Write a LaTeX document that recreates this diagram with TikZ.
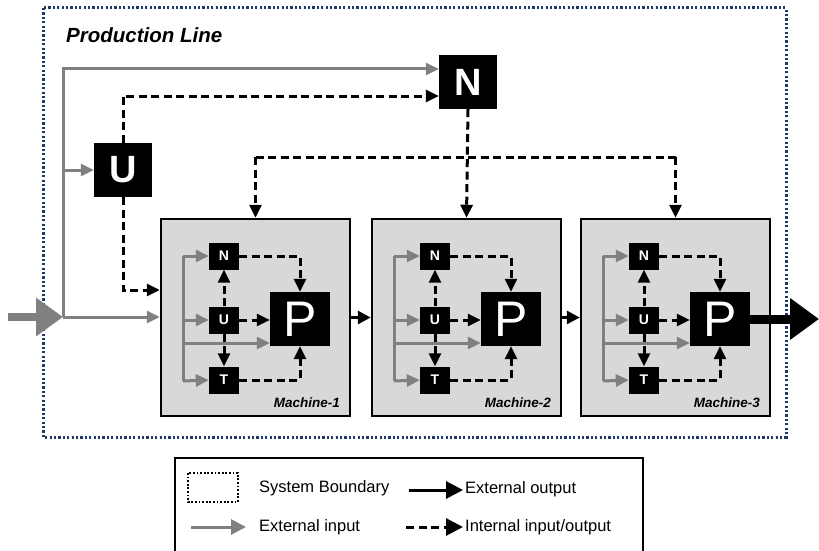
\documentclass[tikz,border=0pt]{standalone}
\usepackage{fontspec}
\setmainfont{Liberation Sans}
\usetikzlibrary{arrows.meta,calc}
\definecolor{navy}{HTML}{1F3A68}
\definecolor{lgray}{HTML}{808080}
\definecolor{mfill}{HTML}{D8D8D8}
\tikzset{
  bigbox/.style={fill=black,text=white,inner sep=0pt,minimum width=58pt,minimum height=54pt,
    font=\fontsize{38}{38}\selectfont\bfseries},
  smallbox/.style={fill=black,text=white,inner sep=0pt,minimum width=30pt,minimum height=27pt,
    font=\fontsize{14}{14}\selectfont\bfseries},
  pbox/.style={fill=black,text=white,inner sep=0pt,minimum width=60pt,minimum height=54pt,
    font=\fontsize{50}{50}\selectfont},
  machine/.style={draw=black,fill=mfill,line width=2.5pt,minimum width=189pt,minimum height=197pt,inner sep=0pt},
  extin/.style={draw=lgray,line width=3pt,-{Triangle[length=13pt,width=12pt]}},
  grayline/.style={draw=lgray,line width=3pt},
  intio/.style={draw=black,line width=3pt,dash pattern=on 8pt off 4.5pt,-{Triangle[length=13pt,width=12pt]}},
  dashline/.style={draw=black,line width=3pt,dash pattern=on 8pt off 4.5pt},
  extout/.style={draw=black,line width=3pt,-{Triangle[length=13pt,width=13pt]}},
  mlabel/.style={anchor=base east,inner sep=0pt,font=\fontsize{13.5}{13.5}\selectfont\bfseries\itshape},
  legtext/.style={anchor=west,inner sep=0pt,font=\fontsize{16.5}{16.5}\selectfont}
}
\begin{document}
\begin{tikzpicture}[x=1pt,y=-1pt]
  \useasboundingbox (0,0) rectangle (819,551);
  % system boundary
  \draw[navy,line width=3pt,dash pattern=on 2.2pt off 2.2pt] (43,8) rectangle (786,437);
  \node[anchor=base west,inner sep=0pt,font=\fontsize{20.5}{20.5}\selectfont\bfseries\itshape] (title) at (66,43) {Production Line};

  % top level U and N
  \node[bigbox] (U) at (123,170) {U};
  \node[bigbox] (N) at (468,82) {N};

  % machines
  \foreach \m/\x in {1/161,2/372,3/581}{
    \node[machine] (m\m) at (\x+94.5,317.5) {};
    \node[smallbox] (n\m) at (\x+63,256) {N};
    \node[smallbox] (u\m) at (\x+63,320) {U};
    \node[smallbox] (t\m) at (\x+63,380) {T};
    \node[pbox] (p\m) at (\x+139,319) {P};
    \node[mlabel] (lab\m) at (\x+179,407) {Machine-\m};
    \coordinate (g\m) at (\x+22,256);
    \coordinate (h\m) at (\x+22,381);
    \coordinate (q\m) at ([yshift=-24pt]p\m.west);
    % external inputs
    \draw[grayline] (g\m) -- (h\m);
    \draw[extin] (g\m) -- (n\m.west);
    \draw[extin] (g\m |- u\m.west) -- (u\m.west);
    \draw[extin] (h\m) -- (t\m.west);
    \draw[extin] (g\m |- q\m) -- (q\m);
    % internal
    \draw[intio] (n\m.east) -| (p\m.north);
    \draw[intio] (t\m.east) -| (p\m.south);
    \draw[intio] (u\m.east) -- (u\m.east -| p\m.west);
    \draw[intio] (u\m.north) -- (n\m.south);
    \draw[intio] (u\m.south) -- (t\m.north);
  }

  % line between machines
  \draw[extout] (m1.east) -- (m2.west);
  \draw[extout] (m2.east) -- (m3.west);

  % production line inputs
  \coordinate (src) at (8,317);
  \coordinate (in) at (63,317);
  \coordinate (na) at ([yshift=13pt]N.west);
  \coordinate (nb) at ([yshift=-14pt]N.west);
  \coordinate (ma) at ([yshift=27.5pt]m1.west);
  \draw[lgray,line width=8pt,-{Triangle[length=27pt,width=37pt]}] (src) -- (in);
  \draw[extin] (in) |- (na);
  \draw[extin] (in |- U.west) -- (U.west);
  \draw[extin] (in) -- (in -| m1.west);
  \draw[intio] (U.north) |- (nb);
  \draw[intio] (U.south) |- (ma);

  % N to machines
  \coordinate (bus) at (468,157);
  \draw[dashline] (bus -| m1.north) -- (bus -| m3.north);
  \draw[intio] (bus -| m1.north) -- (m1.north);
  \draw[intio] (N.south) -- (m2.north);
  \draw[intio] (bus -| m3.north) -- (m3.north);

  % final output
  \coordinate (out) at (819,319);
  \draw[line width=9pt,-{Triangle[length=29pt,width=40pt]}] (p3.east) -- (out);

  % legend
  \draw[line width=2.5pt] (175,556) |- (643,458) -- (643,556);
  \draw[line width=2.5pt,dash pattern=on 1.8pt off 1.8pt] (188,473) rectangle (238,502);
  \node[legtext] (lsb) at (259,488) {System Boundary};
  \coordinate (oa) at (409,490);
  \coordinate (ob) at (463,490);
  \draw[extout,-{Triangle[length=17pt,width=17pt]}] (oa) -- (ob);
  \node[legtext] (lout) at (465,489) {External output};
  \coordinate (ia) at (191,527);
  \coordinate (ib) at (246,527);
  \draw[extin,-{Triangle[length=15pt,width=15pt]}] (ia) -- (ib);
  \node[legtext] (lin) at (259,527) {External input};
  \coordinate (da) at (406,527);
  \coordinate (db) at (463,527);
  \draw[intio,-{Triangle[length=17pt,width=17pt]}] (da) -- (db);
  \node[legtext] (lio) at (465,527) {Internal input/output};
\end{tikzpicture}
\end{document}
